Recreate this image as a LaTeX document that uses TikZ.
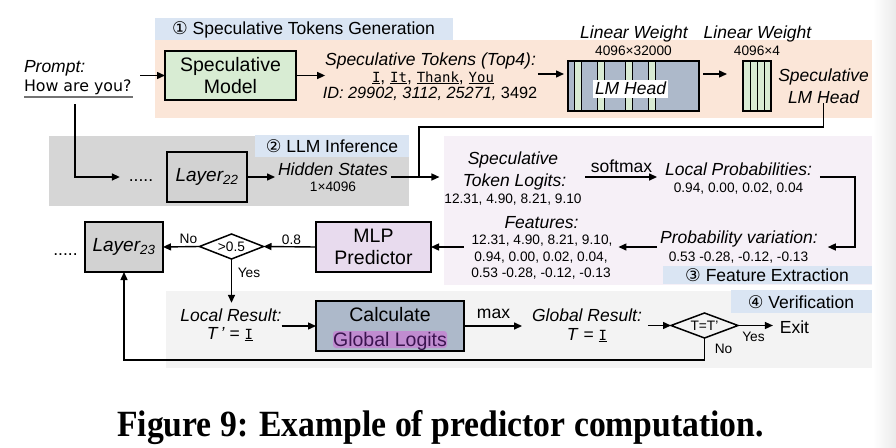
\documentclass[tikz,border=0pt]{standalone}
\usepackage{fontspec}
\usepackage{graphicx}
\setmainfont{Liberation Sans}
\newfontfamily\djv{DejaVu Sans}
\newfontfamily\djvmono{DejaVu Sans Mono}
\newfontfamily\capfont{Liberation Serif}
\usetikzlibrary{arrows.meta,shapes.geometric}
\definecolor{peach}{HTML}{FBE6D8}
\definecolor{tagblue}{HTML}{DAE5F3}
\definecolor{regtwo}{HTML}{D6D6D6}
\definecolor{lav}{HTML}{F6F0F7}
\definecolor{regfour}{HTML}{F3F3F3}
\definecolor{modgreen}{HTML}{D8ECD3}
\definecolor{slate}{HTML}{ADB9CA}
\definecolor{stripe}{HTML}{D9EBD3}
\definecolor{mlpc}{HTML}{E8DBEE}
\definecolor{layerc}{HTML}{D2D2D2}
\definecolor{hlc}{HTML}{C08CD0}
\definecolor{hltext}{HTML}{3C1450}
\newcommand{\tkn}[1]{\underline{\djvmono\fontsize{14}{16}\selectfont #1}}
\newcommand{\cnum}[1]{{\djv #1}}
\begin{document}
\begin{tikzpicture}[x=1pt,y=-1pt,
  every node/.style={inner sep=0pt,outer sep=0pt},
  boxn/.style={draw,line width=1.5pt,align=center},
  arr/.style={-{Triangle[length=8pt,width=7pt]},line width=1.4pt},
  ln/.style={line width=1.4pt},
  big/.style={font=\fontsize{19.5}{22.5}\selectfont},
  ital/.style={font=\fontsize{17.5}{21}\selectfont\itshape},
  reg/.style={font=\fontsize{17.5}{21}\selectfont},
  sm/.style={font=\fontsize{13.7}{16}\selectfont},
  bs/.style={anchor=base},
  dia/.style={diamond,draw,line width=1.5pt,font=\fontsize{13.7}{16}\selectfont}]
\useasboundingbox (0,0) rectangle (896,447);
\shade[left color=white,right color=black!8] (873,0) rectangle (896,447);
% regions
\fill[peach] (155,40) rectangle (872,118);
\fill[tagblue] (155,18) rectangle (453,40);
\fill[regtwo] (49,136) rectangle (409,206);
\fill[tagblue] (255,135) rectangle (409,157);
\fill[lav] (444,136) rectangle (872,285);
\fill[tagblue] (663,266) rectangle (872,284);
\fill[regfour] (166,291) rectangle (872,368);
\fill[tagblue] (731,290) rectangle (872,313);
% tags
\node[reg] (tag1) at (303.5,29.5) {\cnum{①} Speculative Tokens Generation};
\node[reg] (tag2) at (332,146) {\cnum{②} LLM Inference};
\node[reg] (tag3) at (767,275) {\cnum{③} Feature Extraction};
\node[reg] (tag4) at (801,302) {\cnum{④} Verification};
% prompt
\node[ital,anchor=base west] (prm) at (24,72.5) {Prompt:};
\node[font=\djv\fontsize{15.8}{18}\selectfont,anchor=base west] (how) at (24,91) {How are you?};
\draw[line width=2pt,black!55] (24,96.5) -- (133,96.5);
\node[boxn,big,fill=modgreen,minimum width=131pt,minimum height=49pt] (sm) at (230.5,75.5) {Speculative\\Model};
\draw[arr,shorten <=9pt] (how.east |- sm.west) -- (sm.west);
% tokens
\node[ital,bs] (tk1) at (430.5,65.5) {Speculative Tokens (Top4):};
\node[reg,bs] (tk2) at (433,82) {\tkn{I}, \tkn{It}, \tkn{Thank}, \tkn{You}};
\node[bs,font=\fontsize{16.3}{18}\selectfont] (tk3) at (430,98.5) {\textit{ID: 29902, 3112, 25271,} 3492};
\draw[arr] (sm.east) -- (tk1.west |- sm.east);
% LM heads
\node[ital,bs] (lw1) at (634,38.5) {Linear Weight};
\node[sm,bs] (dm1) at (633.5,55.5) {4096×32000};
\node[ital,bs] (lw2) at (757.5,38.5) {Linear Weight};
\node[sm,bs] (dm2) at (757,55.5) {4096×4};
\node[boxn,fill=slate,minimum width=131pt,minimum height=50pt] (lm) at (633.5,86) {};
\foreach \a in {574,597,625,648} \draw[fill=stripe,line width=0.8pt] (\a,61) rectangle ++(7,50);
\node[ital,fill=white,minimum width=75pt,minimum height=18pt] (lmh) at (630.5,88.5) {LM Head};
\draw[line width=1.5pt] (lm.north west) rectangle (lm.south east);
\node[boxn,fill=stripe,minimum width=28pt,minimum height=50pt] (slm) at (757,86) {};
\foreach \a in {750,757,764} \draw[line width=0.9pt] (\a,61) -- (\a,111);
\draw[line width=1.5pt] (slm.north west) rectangle (slm.south east);
\node[align=center,font=\fontsize{17.5}{22}\selectfont\itshape] (slmt) at (823.5,86) {Speculative\\LM Head};
\coordinate (ya) at (0,74);
\draw[arr,shorten <=2pt,shorten >=4pt] (tk1.east |- ya) -- (lm.west |- ya);
\draw[arr,shorten <=4pt,shorten >=16pt] (lm.east |- ya) -- (slm.west |- ya);
% LLM inference
\coordinate (pb) at (75,104);
\node[reg,bs] (dt1) at (141,181) {.....};
\node[boxn,fill=layerc,minimum width=80pt,minimum height=50pt,font=\fontsize{19}{22}\selectfont\itshape] (l22) at (207,177) {Layer\textsubscript{22}};
\draw[arr,shorten >=9pt] (pb) |- (dt1.west |- l22.west);
\node[ital,bs] (hs1) at (333,175) {Hidden States};
\node[sm,bs] (hs2) at (333,191.5) {1×4096};
\draw[arr,shorten >=3pt] (l22.east) -- (hs1.west |- l22.east);
\coordinate (ja) at (419,127);
\coordinate (jb) at (419,177);
\draw[ln] (slmt.south) |- (ja) -- (jb);
\draw[ln,shorten <=3pt] (hs1.east |- jb) -- (jb);
% feature extraction
\node[ital,bs] (lg1) at (513,164.5) {Speculative};
\node[ital,bs] (lg2) at (514.5,186.5) {Token Logits:};
\node[sm,bs] (lg3) at (513,203.5) {12.31, 4.90, 8.21, 9.10};
\draw[arr,shorten >=5pt] (jb) -- (lg3.west |- jb);
\coordinate (yb) at (0,177);
\node[reg,bs] (smx) at (621.5,172.5) {softmax};
\node[ital,bs] (lp1) at (738.5,175.5) {Local Probabilities:};
\node[sm,bs] (lp2) at (738.5,192.5) {0.94, 0.00, 0.02, 0.04};
\draw[arr,shorten <=19pt,shorten >=8pt] (lg2.east |- yb) -- (lp1.west |- yb);
\node[ital,bs] (pv1) at (739,243.5) {Probability variation:};
\node[sm,bs] (pv2) at (738.5,261.5) {0.53 -0.28, -0.12, -0.13};
\coordinate (yc) at (0,247);
\coordinate (cr) at (855,210);
\draw[arr,shorten <=8pt,shorten >=10pt] (lp1.east |- yb) -| (cr) |- (pv1.east |- yc);
\node[ital,bs] (ft1) at (541.5,228.5) {Features:};
\node[sm,bs] (ft2) at (542,244) {12.31, 4.90, 8.21, 9.10,};
\node[sm,bs] (ft3) at (541,261) {0.94, 0.00, 0.02, 0.04,};
\node[sm,bs] (ft4) at (541,277.5) {0.53 -0.28, -0.12, -0.13};
\draw[arr,shorten <=3pt,shorten >=6pt] (pv1.west |- yc) -- (ft2.east |- yc);
% predictor
\node[boxn,big,fill=mlpc,minimum width=115pt,minimum height=50pt] (mlp) at (373.5,247) {MLP\\Predictor};
\draw[arr,shorten <=8pt] (ft2.west |- yc) -- (mlp.east |- yc);
\node[dia,aspect=2.56,minimum width=64pt,minimum height=25pt] (dd) at (231.5,246.5) {>0.5};
\draw[arr] (mlp.west) -- (dd.east);
\node[sm,bs] (v08) at (291.5,244.5) {0.8};
\node[boxn,fill=layerc,minimum width=78pt,minimum height=50pt,font=\fontsize{19}{22}\selectfont\itshape] (l23) at (124,247) {Layer\textsubscript{23}};
\draw[arr] (dd.west) -- (l23.east);
\node[sm,bs] (no1) at (188.5,243.5) {No};
\node[reg,bs] (dt2) at (65.5,255) {.....};
\node[sm,bs] (yes1) at (249,277.5) {Yes};
% verification
\node[ital,bs] (lr1) at (231,321.5) {Local Result:};
\node[reg,bs] (lr2) at (230,339) {\textit{T\,'} = \tkn{I}};
\draw[arr,shorten >=6pt] (dd.south) -- (dd.south |- lr1.north);
\node[boxn,fill=slate,minimum width=148pt,minimum height=50pt] (calc) at (390,326) {};
\node[fill=hlc,rounded corners=3pt,minimum width=114pt,minimum height=17pt] (hl) at (390,339.5) {};
\node[big,bs] (cl1) at (390,321) {Calculate};
\node[big,bs,text=hltext] (cl2) at (390,346) {Global Logits};
\draw[arr] (lr1.east |- calc.west) -- (calc.west);
\node[ital,bs] (gr1) at (587,321.5) {Global Result:};
\node[reg,bs] (gr2) at (587,340) {\textit{T} = \tkn{I}};
\draw[arr,shorten >=10pt] (calc.east) -- (gr1.west |- calc.east);
\node[reg,bs] (mx) at (493.5,318.5) {max};
\node[dia,aspect=2.68,minimum width=67pt,minimum height=25pt] (dv) at (704.5,325.5) {T=T'};
\draw[arr,shorten <=6pt] (gr1.east |- dv.west) -- (dv.west);
\node[reg,bs] (ex) at (794.5,333) {Exit};
\draw[arr,shorten >=7pt] (dv.east) -- (ex.west |- dv.east);
\node[sm,bs] (yes2) at (753.5,341.5) {Yes};
\node[sm,bs] (no2) at (723.5,353.5) {No};
\draw[arr] (dv.south) -- ++(0,22) -| (l23.south);
% caption
\node[font=\capfont\bfseries\fontsize{37}{40}\selectfont,bs] (cap) at (440.5,436) {\scalebox{0.91}[1]{Figure 9: Example of predictor computation.}};
\end{tikzpicture}
\end{document}
